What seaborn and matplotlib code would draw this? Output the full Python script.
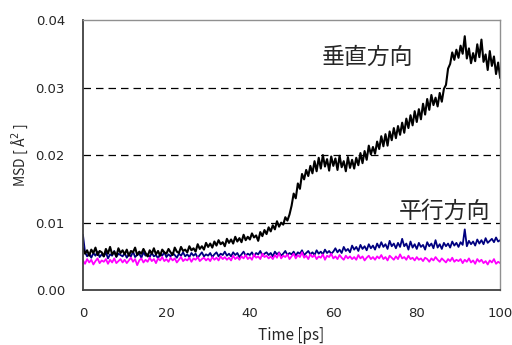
import numpy as np
import pandas as pd
import matplotlib
matplotlib.use("Agg")
import matplotlib.pyplot as plt
import seaborn as sns

sns.set_style("white")
plt.rcParams['font.family'] = ['Noto Sans CJK JP', 'DejaVu Sans']

# time axis, 0..100 ps every 0.5 ps
time_ps = np.arange(0, 100.5, 0.5)

# MSD values, in units of 1e-3 A^2
perp = [
    6.2, 5.4, 5.9, 5.1, 6.0, 5.5, 6.3, 5.2, 5.8, 5.6,
    5.0, 6.1, 5.4, 6.4, 5.3, 5.7, 5.0, 6.2, 5.5, 5.9,
    5.3, 6.0, 5.1, 5.8, 5.6, 6.3, 5.2, 5.7, 5.4, 6.1,
    5.5, 5.0, 5.9, 5.4, 6.2, 5.3, 5.8, 5.1, 6.0, 5.6,
    5.4, 6.1, 5.6, 5.2, 6.3, 5.7, 5.5, 6.4, 5.8, 6.0,
    5.6, 6.5, 5.9, 6.2, 5.7, 6.8, 6.1, 6.5, 6.0, 7.0,
    6.4, 6.9, 6.3, 7.2, 6.6, 7.4, 6.8, 7.1, 6.5, 7.6,
    7.0, 7.5, 6.9, 7.9, 7.2, 7.7, 7.1, 8.2, 7.4, 7.9,
    7.5, 8.4, 7.8, 8.1, 7.3, 8.6, 8.0, 8.9, 8.3, 9.3,
    8.7, 9.6, 9.0, 10.2, 9.4, 10.0, 9.7, 10.8, 10.3, 11.2,
    12.5, 14.3, 13.6, 15.8, 15.0, 17.2, 16.4, 17.8, 16.9, 18.4,
    17.3, 19.1, 17.6, 19.6, 18.0, 20.0, 18.3, 19.4, 17.7, 19.8,
    18.4, 19.5, 17.8, 19.9, 18.2, 19.1, 17.6, 19.7, 18.1, 19.3,
    18.0, 19.6, 18.5, 20.3, 18.8, 20.6, 19.3, 21.4, 20.1, 21.2,
    20.2, 22.0, 20.9, 22.8, 21.3, 23.1, 21.4, 23.5, 22.2, 24.0,
    22.5, 24.3, 23.0, 24.8, 23.3, 25.4, 24.0, 25.9, 24.4, 26.5,
    24.9, 26.8, 25.3, 27.6, 26.0, 28.3, 26.7, 28.9, 27.4, 28.5,
    27.2, 29.2, 27.9, 29.8, 30.4, 32.8, 33.5, 35.2, 34.1, 35.6,
    34.4, 36.2, 35.0, 37.6, 34.3, 35.8, 33.6, 35.1, 33.9, 36.4,
    34.5, 37.1, 33.8, 34.9, 32.6, 35.4, 33.2, 34.6, 32.0, 33.7,
    31.4,
]
mid = [
    8.2, 5.6, 5.0, 5.4, 4.8, 5.5, 5.1, 5.7, 4.9, 5.3,
    5.0, 5.6, 4.7, 5.3, 5.1, 5.8, 4.9, 5.4, 5.2, 5.0,
    5.5, 4.8, 5.3, 5.0, 5.7, 4.9, 5.2, 5.4, 4.8, 5.6,
    5.1, 5.3, 4.9, 5.5, 5.0, 5.2, 4.7, 5.4, 5.1, 5.6,
    4.9, 5.3, 5.0, 5.5, 5.2, 4.8, 5.4, 5.1, 5.6, 5.0,
    5.3, 4.9, 5.5, 5.1, 5.4, 4.8, 5.2, 5.6, 5.0, 5.3,
    5.1, 5.5, 4.9, 5.3, 5.6, 5.0, 5.4, 5.2, 5.7, 5.1,
    5.4, 5.0, 5.6, 5.2, 5.5, 4.9, 5.3, 5.7, 5.1, 5.4,
    5.2, 5.6, 5.0, 5.5, 5.3, 5.8, 5.1, 5.4, 5.6, 5.2,
    5.5, 5.0, 5.7, 5.3, 5.6, 5.1, 5.4, 5.8, 5.2, 5.5,
    5.3, 5.7, 5.1, 5.6, 5.4, 5.9, 5.2, 5.5, 5.8, 5.3,
    5.6, 5.2, 5.9, 5.4, 5.7, 5.3, 6.0, 5.5, 5.8, 5.4,
    5.7, 6.2, 5.6, 6.0, 5.5, 6.4, 5.8, 6.1, 5.6, 6.6,
    6.0, 6.4, 5.8, 6.7, 6.1, 6.5, 5.9, 6.8, 6.2, 6.6,
    6.0, 6.9, 6.3, 7.1, 6.4, 6.8, 6.1, 7.3, 6.5, 6.9,
    6.2, 7.0, 6.4, 7.6, 6.5, 6.9, 6.0, 7.2, 6.3, 6.8,
    6.1, 7.0, 6.4, 6.7, 6.0, 7.1, 6.5, 6.9, 6.2, 7.4,
    6.3, 6.8, 6.1, 7.0, 6.5, 6.9, 6.3, 7.2, 6.6, 7.0,
    6.4, 7.1, 6.7, 9.0, 6.5, 7.3, 6.8, 7.2, 6.6, 7.5,
    6.9, 7.4, 6.8, 7.7, 7.0, 7.3, 7.6, 7.1, 7.8, 7.2,
    7.4,
]
para = [
    4.4, 3.9, 4.6, 4.1, 4.5, 3.8, 4.3, 4.7, 4.0, 4.4,
    4.2, 4.6, 3.9, 4.5, 4.1, 4.7, 4.0, 4.3, 4.6, 4.1,
    4.5, 4.0, 4.4, 4.8, 4.2, 4.6, 3.7, 4.4, 4.7, 4.1,
    4.5, 4.2, 4.8, 4.3, 4.6, 4.0, 4.7, 4.4, 4.9, 4.3,
    4.6, 4.2, 4.8, 4.4, 4.7, 4.1, 4.5, 4.9, 4.3, 4.6,
    4.4, 4.8, 4.2, 4.7, 4.5, 4.9, 4.3, 4.6, 4.8, 4.4,
    4.7, 4.3, 4.9, 4.5, 4.8, 4.4, 5.0, 4.6, 4.9, 4.5,
    4.8, 4.4, 5.1, 4.6, 4.9, 4.5, 5.0, 4.7, 5.2, 4.6,
    4.9, 4.5, 5.3, 4.8, 5.0, 4.6, 5.4, 4.9, 5.1, 4.7,
    5.0, 4.6, 5.2, 4.8, 5.5, 4.7, 5.1, 4.9, 5.3, 4.6,
    5.0, 5.4, 4.7, 5.2, 4.9, 5.6, 4.8, 5.1, 4.6, 5.3,
    4.9, 5.2, 4.6, 5.0, 4.8, 5.3, 4.5, 5.1, 4.9, 5.4,
    4.7, 5.0, 4.6, 5.2, 4.8, 4.5, 5.1, 4.7, 5.0, 4.6,
    4.9, 4.5, 5.2, 4.7, 5.0, 4.4, 4.8, 5.1, 4.6, 4.9,
    4.5, 5.0, 4.7, 5.2, 4.6, 4.9, 4.4, 5.1, 4.8, 4.5,
    5.0, 4.6, 5.3, 4.7, 4.9, 4.5, 5.1, 4.6, 4.8, 4.4,
    4.9, 4.5, 4.7, 4.3, 4.8, 4.6, 4.2, 4.7, 4.4, 4.9,
    4.5, 4.2, 4.7, 4.4, 4.1, 4.6, 4.3, 4.8, 4.2, 4.5,
    4.3, 4.6, 4.0, 4.5, 4.2, 4.7, 4.1, 4.4, 3.9, 4.6,
    4.2, 4.5, 4.0, 4.3, 3.8, 4.4, 4.1, 4.6, 3.9, 4.2,
    4.0,
]

df = pd.DataFrame({
    'time': time_ps,
    'perp': np.array(perp) / 1000,
    'mid': np.array(mid) / 1000,
    'para': np.array(para) / 1000,
})

fig = plt.figure(figsize=(5.12, 3.45), dpi=100)
ax = fig.add_axes([0.162, 0.159, 0.815, 0.783])

sns.lineplot(data=df, x='time', y='mid', color='#000080', lw=1.3, ax=ax)
sns.lineplot(data=df, x='time', y='perp', color='black', lw=1.5, ax=ax)
sns.lineplot(data=df, x='time', y='para', color='#ff00ff', lw=1.3, ax=ax)

ax.set_xlim(0, 100)
ax.set_ylim(0, 0.04)
ax.set_xticks([0, 20, 40, 60, 80, 100])
ax.set_yticks([0, 0.01, 0.02, 0.03, 0.04])
ax.set_yticklabels(['0.00', '0.01', '0.02', '0.03', '0.04'])
for v in [0.01, 0.02, 0.03]:
    ax.axhline(v, color='black', lw=0.9, ls=(0, (6, 4)), zorder=0)

ax.tick_params(axis='x', direction='in', length=4, width=1, color='#404040',
               labelsize=9.5, pad=12)
ax.tick_params(axis='y', length=0, labelsize=9.5, pad=13)
for lab in ax.get_xticklabels() + ax.get_yticklabels():
    lab.set_family('DejaVu Sans')
for s in ['left', 'bottom']:
    ax.spines[s].set_color('#404040')
    ax.spines[s].set_linewidth(1.3)
for s in ['top', 'right']:
    ax.spines[s].set_color('#909090')
    ax.spines[s].set_linewidth(1)

ax.set_xlabel('Time [ps]', fontsize=11, labelpad=5)
ax.set_ylabel('MSD [ Å$^2$ ]', fontsize=10, labelpad=4)

ax.text(68.3, 0.0345, '垂直方向', fontsize=16.5, ha='center', va='center')
ax.text(86.6, 0.0117, '平行方向', fontsize=16.5, ha='center', va='center')

fig.savefig('out.png', dpi=100)
